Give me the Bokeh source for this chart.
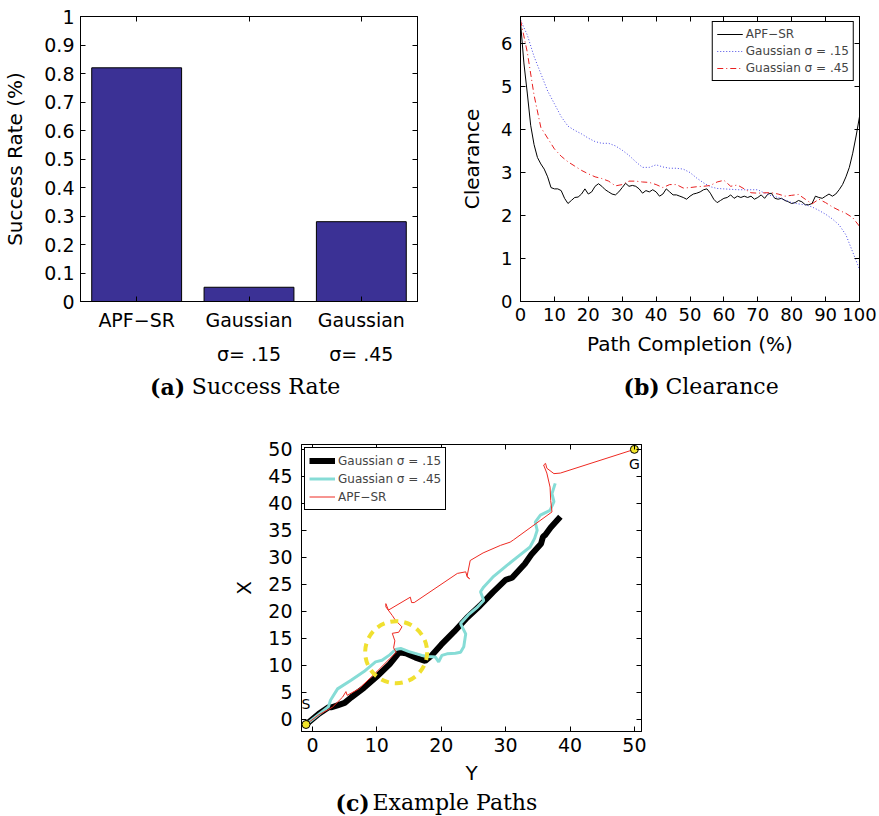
from bokeh.plotting import figure
from bokeh.models import (LinearAxis, FixedTicker, Range1d, Legend, LegendItem,
                          CustomLabelingPolicy)
from bokeh.layouts import column, row
from bokeh.embed import file_html
from bokeh.resources import INLINE
from bokeh.core.properties import value

SANS = "DejaVu Sans"
SERIF = "DejaVu Serif"

# ---------------- data: (a) success rate ----------------
method_names = ["APF−SR", "Gaussian", "Gaussian"]
method_sigma = ["", "σ= .15", "σ= .45"]
method_pos = [1, 2, 3]
success_rate = [0.82, 0.05, 0.28]
success_ticks = [0, 0.1, 0.2, 0.3, 0.4, 0.5, 0.6, 0.7, 0.8, 0.9, 1.0]
success_tick_labels = ["0", "0.1", "0.2", "0.3", "0.4", "0.5", "0.6", "0.7", "0.8", "0.9", "1"]

# ---------------- data: (b) clearance ----------------
completion_apf = list(range(0, 101))
clearance_apf = [6.5, 5.55, 4.85, 4.1, 3.65, 3.35, 3.2, 3.08, 2.9, 2.65,
                 2.62, 2.62, 2.58, 2.4, 2.28, 2.35, 2.42, 2.43, 2.5, 2.62,
                 2.5, 2.55, 2.68, 2.74, 2.68, 2.6, 2.55, 2.5, 2.48, 2.55,
                 2.65, 2.75, 2.68, 2.7, 2.68, 2.62, 2.52, 2.58, 2.55, 2.6,
                 2.55, 2.45, 2.5, 2.62, 2.55, 2.48, 2.48, 2.45, 2.42, 2.38,
                 2.45, 2.5, 2.52, 2.55, 2.6, 2.62, 2.52, 2.38, 2.3, 2.35,
                 2.4, 2.42, 2.48, 2.4, 2.45, 2.42, 2.45, 2.42, 2.45, 2.38,
                 2.42, 2.48, 2.4, 2.5, 2.52, 2.4, 2.38, 2.4, 2.35, 2.32,
                 2.28, 2.3, 2.35, 2.32, 2.25, 2.25, 2.28, 2.45, 2.42, 2.4,
                 2.45, 2.5, 2.45, 2.5, 2.6, 2.72, 2.9, 3.12, 3.45, 3.85, 4.3]
completion_gauss = list(range(0, 101, 2))
clearance_g15 = [6.55, 6.2, 5.7, 5.3, 4.9, 4.6, 4.3, 4.08, 3.98, 3.9,
                 3.8, 3.72, 3.68, 3.68, 3.62, 3.52, 3.4, 3.25, 3.12, 3.12,
                 3.18, 3.13, 3.1, 3.1, 3.08, 3.0, 2.87, 2.76, 2.67, 2.63,
                 2.62, 2.61, 2.6, 2.6, 2.6, 2.6, 2.52, 2.46, 2.42, 2.36,
                 2.3, 2.27, 2.25, 2.2, 2.12, 2.03, 1.92, 1.78, 1.55, 1.15, 0.75]
clearance_g45 = [6.55, 5.8, 4.8, 4.05, 3.8, 3.55, 3.38, 3.25, 3.15, 3.05,
                 2.97, 2.9, 2.86, 2.8, 2.69, 2.72, 2.8, 2.8, 2.78, 2.77,
                 2.72, 2.65, 2.72, 2.72, 2.64, 2.65, 2.67, 2.68, 2.7, 2.78,
                 2.82, 2.68, 2.71, 2.62, 2.53, 2.52, 2.53, 2.53, 2.5, 2.45,
                 2.47, 2.49, 2.38, 2.27, 2.38, 2.3, 2.2, 2.12, 2.05, 1.95, 1.75]

# ---------------- data: (c) example paths ----------------
path_g15_x = [-1, 1, 2.5, 3, 4, 5, 6, 8, 10, 12, 13.5, 14.5, 16, 17.5, 18.5, 20, 22, 24, 26, 28,
              30, 31, 32, 33, 34, 35.5, 35.8, 36.2, 37, 38.5]
path_g15_y = [-1, 1, 2.2, 2.2, 2.6, 3.0, 4.0, 5.8, 7.9, 10.2, 12.4, 12.2, 11.4, 10.8, 11.8, 13.8, 16.2, 18.8, 21.0, 23.5,
              25.8, 26.2, 27.5, 28.8, 30.5, 32.5, 33.8, 34.2, 35.5, 37.5]
path_g45_x = [-1, 2.5, 2.8, 3.9, 6, 8, 9.8, 10.8, 12, 12.9, 13.7, 15, 17.0, 18, 19.1, 19.6, 20.1, 20.9, 22.2,
              23, 23.5, 23.8, 23.0, 24.2, 25.5, 26.6, 26.1, 26.6, 28, 30.2, 32, 33.8, 34.5, 34.9, 34.6,
              35.4, 36.9, 37.5, 37.2, 37.7]
path_g45_y = [-1, 2.3, 3.5, 5.6, 7.2, 8.8, 10.6, 10.9, 11.9, 12.9, 13.1, 12.5, 11.8, 11.6, 11.5, 10.6, 11.8, 12.1, 12.2,
              12.4, 13.4, 15.8, 17.7, 19.3, 20.6, 22.0, 23.6, 24.5, 26.3, 28.5, 30.2, 31.9, 33.5, 35.0, 36.5,
              37.8, 38.7, 40.3, 41.8, 43.7]
path_apf_x = [-1, 1, 3.1, 4.7, 5.2, 5.4, 7.2, 10, 12, 13, 12.6, 12.8, 12.4, 13.4, 13.9, 12.9, 12.4, 11.4, 11.4,
              11.8, 15.2, 15.4, 15.8, 22.5, 23.8, 24.0, 24.4, 24.0, 24.5, 26.5, 29.2, 30.7, 31.2, 37.2,
              37.0, 36.9, 36.4, 35.9, 36.2, 36.4, 37.5, 38.5, 50]
path_apf_y = [-1, 0.8, 2.2, 4.1, 5.1, 4.4, 5.6, 8.8, 11.2, 12.4, 13.2, 14.5, 15.9, 16.1, 17.1, 18.3, 19.2, 20.8, 21.4,
              20.2, 22.6, 21.6, 21.6, 27.0, 27.3, 26.5, 26.0, 26.4, 29.4, 30.8, 32.2, 32.8, 33.2, 38.4,
              40.5, 43.0, 45.6, 47.1, 47.4, 46.5, 45.5, 45.6, 50]
endpoint_x = [-1, 50]
endpoint_y = [-1, 50]
endpoint_names = ["S", "G"]
highlight_x = [13]
highlight_y = [12.4]

captions = [("(a)", "Success Rate"), ("(b)", "Clearance"), ("(c)", "Example Paths")]

NO_LABELS = "for (const i of indices) { indices.unset(i) }\nreturn indices"
SKIP_FIRST = "indices.unset(0)\nreturn indices"


def axis(ticks, side_labels=True, font_size="18px", standoff=6, overrides=None,
         label=None, label_size="20px", label_standoff=10, ticks_in=5, show_line=True,
         policy=None):
    ax = LinearAxis(ticker=FixedTicker(ticks=ticks, minor_ticks=[]))
    ax.major_tick_in = ticks_in
    ax.major_tick_out = 0
    ax.minor_tick_in = 0
    ax.minor_tick_out = 0
    ax.minor_tick_line_color = None
    ax.major_tick_line_color = "black" if ticks_in else None
    ax.axis_line_color = "black" if show_line else None
    ax.major_label_text_font = SANS
    ax.major_label_text_color = "black"
    if side_labels:
        ax.major_label_text_font_size = font_size
        ax.major_label_standoff = standoff
    else:
        ax.major_label_text_font_size = "0px"
        ax.major_label_standoff = 0
        ax.major_label_policy = CustomLabelingPolicy(code=NO_LABELS)
    if policy:
        ax.major_label_policy = CustomLabelingPolicy(code=policy)
    if overrides:
        ax.major_label_overrides = overrides
    if label:
        ax.axis_label = label
        ax.axis_label_text_font = SANS
        ax.axis_label_text_font_size = label_size
        ax.axis_label_text_font_style = "normal"
        ax.axis_label_text_color = "black"
        ax.axis_label_standoff = label_standoff
    return ax


def base_fig(width, height, xr, yr, left, right, top, bottom):
    p = figure(width=width, height=height, x_range=Range1d(*xr), y_range=Range1d(*yr),
               output_backend="svg", toolbar_location=None,
               x_axis_location=None, y_axis_location=None,
               min_border_left=left, min_border_right=right,
               min_border_top=top, min_border_bottom=bottom)
    p.grid.visible = False
    p.outline_line_color = "black"
    p.outline_line_alpha = 1
    p.outline_line_width = 1
    p.background_fill_color = "white"
    p.border_fill_color = "white"
    return p


def caption_fig(width, height, left, right, page_x0, cap, bold_left, rest_left, y_px):
    # frame aligned with the plot above; x range expressed in page pixels
    p = figure(width=width, height=height,
               x_range=Range1d(page_x0 + left, page_x0 + width - right), y_range=Range1d(0, height),
               output_backend="svg", toolbar_location=None,
               x_axis_location=None, y_axis_location=None,
               min_border_left=left, min_border_right=right, min_border_top=0, min_border_bottom=0)
    p.grid.visible = False
    p.outline_line_color = None
    p.border_fill_color = "white"
    p.background_fill_color = "white"
    p.text(x=[bold_left], y=[y_px], text=[cap[0]], text_font=value(SERIF), text_font_style="bold",
           text_font_size="22px", text_align="left", text_baseline="middle", text_color="black")
    p.text(x=[rest_left], y=[y_px], text=[cap[1]], text_font=value(SERIF),
           text_font_size="22px", text_align="left", text_baseline="middle", text_color="black")
    return p


# ================= (a) =================
pa = base_fig(440, 370, (0.5, 3.5), (0, 1), 78, 23, 16, 69)
pa.vbar(x=method_pos, top=success_rate, width=0.8, fill_color="#3b3195", line_color="black", line_width=1)
pa.add_layout(axis(success_ticks, font_size="19px", standoff=6,
                   overrides={t: s for t, s in zip(success_ticks, success_tick_labels)},
                   label="Success Rate (%)", label_size="20px", label_standoff=14), "left")
pa.add_layout(axis(method_pos, font_size="19px", standoff=7,
                   overrides={t: s for t, s in zip(method_pos, method_names)}), "below")
pa.add_layout(axis(method_pos, font_size="19px", standoff=9, ticks_in=0, show_line=False,
                   policy=SKIP_FIRST,
                   overrides={t: s for t, s in zip(method_pos, method_sigma)}), "below")
pa.add_layout(axis(method_pos, side_labels=False), "above")
pa.add_layout(axis(success_ticks, side_labels=False), "right")
cap_a = caption_fig(440, 30, 78, 23, 0, captions[0], 148, 190, 14)

# ================= (b) =================
pb = base_fig(439, 370, (0, 100), (0, 6.63), 80, 20, 16, 69)
r_apf = pb.line(completion_apf, clearance_apf, line_color="black", line_width=1)
r_g15 = pb.line(completion_gauss, clearance_g15, line_color="#4a4ae6", line_width=1, line_dash="1 2")
r_g45 = pb.line(completion_gauss, clearance_g45, line_color="#e82020", line_width=1, line_dash="6 3 1 3")
xt_b = list(range(0, 101, 10))
yt_b = list(range(0, 7))
pb.add_layout(axis(yt_b, font_size="18px", standoff=8, label="Clearance", label_standoff=14), "left")
pb.add_layout(axis(xt_b, font_size="18px", standoff=6, label="Path Completion (%)", label_standoff=8), "below")
pb.add_layout(axis(xt_b, side_labels=False), "above")
pb.add_layout(axis(yt_b, side_labels=False), "right")
leg_b = Legend(items=[LegendItem(label="APF−SR", renderers=[r_apf]),
                      LegendItem(label="Gaussian σ = .15", renderers=[r_g15]),
                      LegendItem(label="Guassian σ = .45", renderers=[r_g45])],
               location="top_right", margin=5, padding=4, spacing=1,
               glyph_width=26, glyph_height=16, label_height=16, label_standoff=3,
               label_text_font=SANS, label_text_font_size="12px",
               border_line_color="black", border_line_width=1, border_line_alpha=1,
               background_fill_color="white", background_fill_alpha=1)
pb.add_layout(leg_b)
cap_b = caption_fig(439, 30, 80, 20, 440, captions[1], 623, 665, 14)

# ================= (c) =================
pc = base_fig(879, 390, (-1.7, 51.1), (-2.3, 50.9), 301, 238, 44, 59)
r_c15 = pc.line(path_g15_x, path_g15_y, line_color="black", line_width=6)
r_c45 = pc.line(path_g45_x, path_g45_y, line_color="#86dcd6", line_width=3)
r_capf = pc.line(path_apf_x, path_apf_y, line_color="#ee2a22", line_width=1)
pc.scatter(highlight_x, highlight_y, marker="circle", size=62, fill_color=None,
           line_color="#f0e030", line_width=4, line_dash="8 6")
pc.scatter(endpoint_x, endpoint_y, marker="circle", size=8, fill_color="#f2e52a",
           line_color="black", line_width=1)
pc.text(endpoint_x[:1], endpoint_y[:1], text=endpoint_names[:1], x_offset=0, y_offset=-12,
        text_font=value(SANS), text_font_size="14px", text_align="center", text_baseline="bottom",
        text_color="black")
pc.text(endpoint_x[1:], endpoint_y[1:], text=endpoint_names[1:], x_offset=0, y_offset=7,
        text_font=value(SANS), text_font_size="14px", text_align="center", text_baseline="top",
        text_color="black")
xt_c = list(range(0, 51, 10))
yt_c = list(range(0, 51, 5))
pc.add_layout(axis(yt_c, font_size="19px", standoff=9, label="X", label_standoff=9), "left")
pc.add_layout(axis(xt_c, font_size="19px", standoff=6, label="Y", label_standoff=6), "below")
pc.add_layout(axis(xt_c, side_labels=False), "above")
pc.add_layout(axis(yt_c, side_labels=False), "right")
leg_c = Legend(items=[LegendItem(label="Gaussian σ = .15", renderers=[r_c15]),
                      LegendItem(label="Guassian σ = .45", renderers=[r_c45]),
                      LegendItem(label="APF−SR", renderers=[r_capf])],
               location="top_left", margin=3, padding=4, spacing=1,
               glyph_width=26, glyph_height=17, label_height=17, label_standoff=3,
               label_text_font=SANS, label_text_font_size="12px",
               border_line_color="black", border_line_width=1, border_line_alpha=1,
               background_fill_color="white", background_fill_alpha=1)
pc.add_layout(leg_c)
cap_c = caption_fig(879, 26, 301, 238, 0, captions[2], 335, 372, 14)

layout = column(row(column(pa, cap_a), column(pb, cap_b)), pc, cap_c)
open("out.html", "w").write(file_html(layout, INLINE))
